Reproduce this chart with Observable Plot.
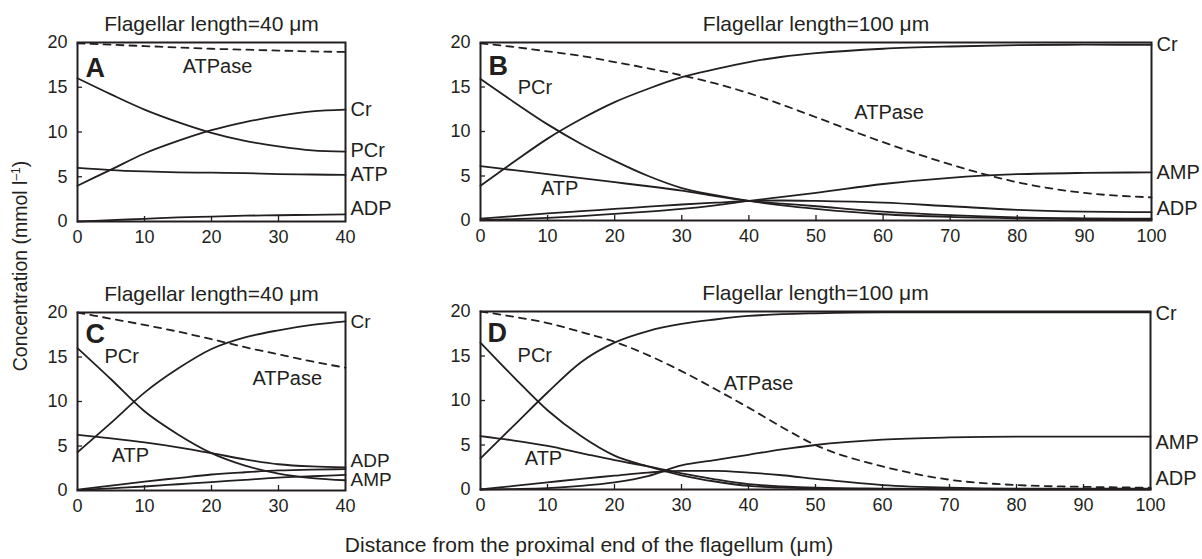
<!DOCTYPE html>
<html>
<head>
<meta charset="utf-8">
<script src="https://cdn.jsdelivr.net/npm/d3@7"></script>
<script src="https://cdn.jsdelivr.net/npm/@observablehq/plot@0.6"></script>
<style>
  html, body { margin: 0; padding: 0; background: #fff; }
  #wrap { position: relative; width: 1202px; height: 559px; background: #fff; font-family: "Liberation Sans", Arial, Helvetica, sans-serif; color: #231f20; }
  .pane { position: absolute; }
  .pane svg { overflow: visible; }
  #xlab { position: absolute; left: 0; width: 1178px; top: 533px; text-align: center; font-size: 21px; line-height: 24px; white-space: nowrap; }
  #ylab { position: absolute; left: 20px; top: 266px; transform: translate(-50%, -50%) rotate(-90deg); font-size: 19.5px; line-height: 22px; white-space: nowrap; }
</style>
</head>
<body>
<div id="wrap">
  <div id="pA" class="pane" style="left:0px;top:0px"></div>
  <div id="pB" class="pane" style="left:420px;top:0px"></div>
  <div id="pC" class="pane" style="left:0px;top:270px"></div>
  <div id="pD" class="pane" style="left:420px;top:270px"></div>
  <div id="xlab">Distance from the proximal end of the flagellum (μm)</div>
  <div id="ylab">Concentration (mmol l<sup style="font-size:12px;vertical-align:7px;line-height:0">–1</sup>)</div>
</div>
<script>
// ---------- data ----------
const yTicks = [0, 5, 10, 15, 20];
const xTicks40 = [0, 10, 20, 30, 40];
const xTicks100 = [0, 10, 20, 30, 40, 50, 60, 70, 80, 90, 100];

const grid40 = [0, 5, 10, 15, 20, 25, 30, 35, 40];
const grid100 = [0, 5, 10, 15, 20, 25, 30, 35, 40, 45, 50, 60, 70, 80, 90, 100];

// Panel A (length 40 µm)
const atpaseA = [19.9, 19.75, 19.6, 19.45, 19.3, 19.2, 19.1, 19.0, 18.95];
const crA     = [4.0, 5.8, 7.6, 9.0, 10.2, 11.1, 11.8, 12.3, 12.5];
const pcrA    = [16.0, 14.2, 12.5, 11.1, 9.9, 9.0, 8.4, 7.95, 7.8];
const atpA    = [6.0, 5.75, 5.6, 5.5, 5.45, 5.4, 5.3, 5.25, 5.2];
const adpA    = [0.0, 0.15, 0.3, 0.45, 0.55, 0.65, 0.7, 0.75, 0.8];

// Panel B (length 100 µm)
const atpaseB = [19.9, 19.5, 19.0, 18.5, 17.8, 17.1, 16.3, 15.4, 14.3, 13.0, 11.6, 8.8, 6.3, 4.3, 3.1, 2.6];
const crB     = [3.9, 6.6, 9.2, 11.4, 13.3, 14.8, 16.1, 17.0, 17.8, 18.4, 18.8, 19.3, 19.55, 19.7, 19.75, 19.75];
const pcrB    = [15.9, 13.3, 10.8, 8.6, 6.7, 5.0, 3.65, 2.85, 2.2, 1.7, 1.3, 0.7, 0.4, 0.25, 0.15, 0.1];
const atpB    = [6.1, 5.65, 5.2, 4.75, 4.3, 3.85, 3.35, 2.75, 2.2, 1.9, 1.6, 1.0, 0.6, 0.35, 0.25, 0.2];
const adpB    = [0.2, 0.5, 0.8, 1.05, 1.3, 1.55, 1.8, 2.0, 2.2, 2.25, 2.2, 2.0, 1.6, 1.2, 1.0, 0.93];
const ampB    = [0.05, 0.15, 0.3, 0.5, 0.75, 1.0, 1.3, 1.7, 2.2, 2.65, 3.1, 4.1, 4.8, 5.2, 5.35, 5.4];

// Panel C (length 40 µm)
const atpaseC = [20.0, 19.3, 18.6, 17.85, 17.0, 16.1, 15.3, 14.5, 13.8];
const crC     = [4.3, 7.6, 11.0, 13.7, 15.9, 17.2, 18.0, 18.6, 19.0];
const pcrC    = [16.0, 12.5, 8.9, 6.3, 4.2, 2.8, 1.9, 1.4, 1.15];
const atpC    = [6.25, 5.85, 5.4, 4.85, 4.2, 3.5, 2.95, 2.7, 2.6];
const adpC    = [0.1, 0.55, 1.0, 1.4, 1.8, 2.05, 2.25, 2.35, 2.4];
const ampC    = [0.05, 0.25, 0.45, 0.7, 0.95, 1.2, 1.45, 1.6, 1.75];

// Panel D (length 100 µm)
const atpaseD = [20.0, 19.4, 18.7, 17.7, 16.6, 15.1, 13.3, 11.3, 9.2, 7.0, 5.0, 2.6, 1.1, 0.5, 0.3, 0.2];
const crD     = [3.5, 7.2, 10.9, 14.3, 16.5, 17.8, 18.6, 19.1, 19.5, 19.7, 19.8, 19.9, 19.9, 19.9, 19.9, 19.9];
const pcrD    = [16.5, 12.6, 8.9, 6.0, 3.8, 2.6, 1.6, 0.9, 0.4, 0.2, 0.1, 0.05, 0.02, 0.0, 0.0, 0.0];
const atpD    = [6.0, 5.5, 4.9, 4.1, 3.3, 2.6, 1.8, 1.15, 0.6, 0.35, 0.2, 0.1, 0.05, 0.05, 0.05, 0.05];
const adpD    = [0.0, 0.4, 0.8, 1.2, 1.55, 1.9, 2.1, 2.1, 1.9, 1.6, 1.2, 0.5, 0.2, 0.1, 0.1, 0.1];
const ampD    = [0.0, 0.05, 0.15, 0.4, 0.8, 1.5, 2.7, 3.3, 3.9, 4.5, 5.0, 5.6, 5.85, 5.95, 5.95, 5.95];

// Annotation text and where it sits (data units)
const titles = ["Flagellar length=40 μm", "Flagellar length=100 μm"];
const innerLabelsA = [{text: "ATPase", x: 20.9, y: 17.3}];
const innerLabelsB = [{text: "PCr", x: 8.1, y: 14.9}, {text: "ATP", x: 11.8, y: 3.6}, {text: "ATPase", x: 60.9, y: 12.1}];
const innerLabelsC = [{text: "PCr", x: 6.6, y: 15.1}, {text: "ATP", x: 7.9, y: 3.9}, {text: "ATPase", x: 31.3, y: 12.6}];
const innerLabelsD = [{text: "PCr", x: 8.1, y: 15.05}, {text: "ATP", x: 9.4, y: 3.5}, {text: "ATPase", x: 41.5, y: 11.9}];
const rightLabelsA = [{text: "Cr", y: 12.5}, {text: "PCr", y: 7.9}, {text: "ATP", y: 5.25}, {text: "ADP", y: 1.45}];
const rightLabelsB = [{text: "Cr", y: 19.8}, {text: "AMP", y: 5.4}, {text: "ADP", y: 1.35}];
const rightLabelsC = [{text: "Cr", y: 18.9}, {text: "ADP", y: 3.3}, {text: "AMP", y: 1.2}];
const rightLabelsD = [{text: "Cr", y: 19.8}, {text: "AMP", y: 5.3}, {text: "ADP", y: 1.25}];

// ---------- drawing ----------
const INK = "#231f20";
const FONT = '"Liberation Sans", Arial, Helvetica, sans-serif';

function panel(o) {
  const innerH = o.height - o.mt - o.mb;
  const innerW = o.width - o.ml - o.mr;
  const marks = [];
  // inward ticks
  marks.push(Plot.ruleX(o.xTicks.filter(t => t > 0 && t < o.L), {x: d => d, insetTop: innerH - 5, stroke: INK, strokeWidth: 1.3}));
  marks.push(Plot.ruleY(yTicks.filter(t => t > 0 && t < 20), {y: d => d, insetRight: innerW - 5, stroke: INK, strokeWidth: 1.3}));
  // series
  o.series.forEach(s => {
    marks.push(Plot.line(o.grid.map((x, i) => ({x, y: s.values[i]})), {
      x: "x", y: "y", curve: "monotone-x", stroke: INK, strokeWidth: 1.8,
      strokeDasharray: s.dashed ? "7,6" : null
    }));
  });
  marks.push(Plot.frame({stroke: INK, strokeWidth: 2}));
  marks.push(Plot.axisX({ticks: o.xTicks, tickSize: 0, tickPadding: 9, fontSize: 18, label: null, tickFormat: d => String(d)}));
  marks.push(Plot.axisY({ticks: yTicks, tickSize: 0, tickPadding: 10, fontSize: 18, label: null, tickFormat: d => String(d)}));
  marks.push(Plot.text(o.inner, {x: "x", y: "y", text: "text", fontSize: 20, textAnchor: "middle", lineAnchor: "middle", fill: INK}));
  marks.push(Plot.text(o.right, {x: () => o.L, y: "y", text: "text", fontSize: o.rightSize || 20, textAnchor: "start", lineAnchor: "middle", dx: 5, fill: INK}));
  marks.push(Plot.text([o.letter], {frameAnchor: "top-left", text: d => d, fontSize: 27, fontWeight: "bold", textAnchor: "start", lineAnchor: "top", dx: o.ldx, dy: o.ldy, fill: INK}));
  marks.push(Plot.text([o.title], {frameAnchor: "top", text: d => d, fontSize: 21, textAnchor: "middle", lineAnchor: "bottom", dy: -12, fill: INK}));
  return Plot.plot({
    width: o.width, height: o.height,
    marginLeft: o.ml, marginRight: o.mr, marginTop: o.mt, marginBottom: o.mb,
    x: {domain: [0, o.L], axis: null, label: null},
    y: {domain: [0, 20], axis: null, label: null},
    style: {fontFamily: FONT, color: INK, background: "transparent", overflow: "visible"},
    marks
  });
}

document.getElementById("pA").appendChild(panel({
  width: 420, height: 270, ml: 77, mr: 75, mt: 42, mb: 49, L: 40, xTicks: xTicks40, grid: grid40,
  series: [{values: atpaseA, dashed: true}, {values: crA}, {values: pcrA}, {values: atpA}, {values: adpA}],
  inner: innerLabelsA, right: rightLabelsA, letter: "A", ldx: 8, ldy: 15, title: titles[0]
}));
document.getElementById("pB").appendChild(panel({
  width: 782, height: 270, ml: 60, mr: 51, mt: 42, mb: 50, L: 100, xTicks: xTicks100, grid: grid100,
  series: [{values: atpaseB, dashed: true}, {values: crB}, {values: pcrB}, {values: atpB}, {values: adpB}, {values: ampB}],
  inner: innerLabelsB, right: rightLabelsB, letter: "B", ldx: 8, ldy: 13, title: titles[1]
}));
document.getElementById("pC").appendChild(panel({
  width: 420, height: 289, ml: 77, mr: 75, mt: 42, mb: 69, L: 40, xTicks: xTicks40, grid: grid40,
  series: [{values: atpaseC, dashed: true}, {values: crC}, {values: pcrC}, {values: atpC}, {values: adpC}, {values: ampC}],
  inner: innerLabelsC, right: rightLabelsC, rightSize: 19, letter: "C", ldx: 8, ldy: 11, title: titles[0]
}));
document.getElementById("pD").appendChild(panel({
  width: 782, height: 289, ml: 60, mr: 52, mt: 41, mb: 70, L: 100, xTicks: xTicks100, grid: grid100,
  series: [{values: atpaseD, dashed: true}, {values: crD}, {values: pcrD}, {values: atpD}, {values: adpD}, {values: ampD}],
  inner: innerLabelsD, right: rightLabelsD, letter: "D", ldx: 7, ldy: 11, title: titles[1]
}));
</script>
</body>
</html>
